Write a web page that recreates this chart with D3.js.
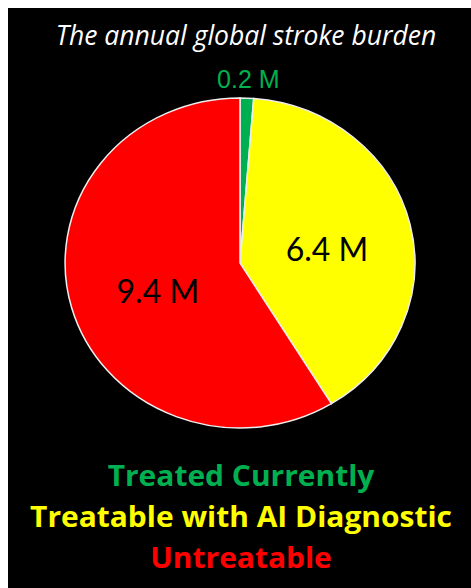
<!DOCTYPE html>
<html>
<head>
<meta charset="utf-8">
<script src="https://cdn.jsdelivr.net/npm/d3@7"></script>
<style>
  html, body { margin: 0; padding: 0; background: #ffffff; }
  svg { display: block; }
</style>
</head>
<body>
<svg id="chart" width="471" height="588"></svg>
<script>
// Annual global stroke burden, millions of cases
const categories = ["Treated Currently", "Treatable with AI Diagnostic", "Untreatable"];
const values = [0.2, 6.4, 9.4];
const valueLabels = ["0.2 M", "6.4 M", "9.4 M"];
const colors = ["#00b050", "#ffff00", "#ff0000"];
const title = "The annual global stroke burden";

const W = 471, H = 588;
const svg = d3.select("#chart");

// black panel, offset leaving a thin white margin top and left
svg.append("rect").attr("x", 8).attr("y", 8).attr("width", W - 8).attr("height", H - 8).attr("fill", "#000");

svg.append("text")
  .attr("x", 246).attr("y", 45)
  .attr("text-anchor", "middle")
  .attr("fill", "#fff")
  .style("font-family", "'Open Sans', sans-serif")
  .style("font-style", "italic")
  .style("font-size", "26.5px")
  .text(title);

// slightly wide layout: pie and legend share a horizontal stretch
const cx = 240, cy = 263, R = 165, sx = 1.06;

const pie = d3.pie().sort(null).value(d => d)(values);
const arc = d3.arc().innerRadius(0).outerRadius(R);
const labelArc = d3.arc().innerRadius(R * 0.5).outerRadius(R * 0.5);

const g = svg.append("g").attr("transform", `translate(${cx},${cy}) scale(${sx},1)`);

g.selectAll("path.slice")
  .data(pie)
  .join("path")
  .attr("class", "slice")
  .attr("d", arc)
  .attr("fill", (d, i) => colors[i])
  .attr("stroke", "#eeeeee")
  .attr("stroke-width", 1.5)
  .attr("vector-effect", "non-scaling-stroke");

// value labels: small slice outside, large slices inside
pie.forEach((d, i) => {
  let x, y, font, size, fill;
  if (i === 0) {
    const a = (d.startAngle + d.endAngle) / 2;
    x = cx + sx * Math.sin(a) * (R + 12) + 1;
    y = cy - Math.cos(a) * (R + 12) + 2;
    font = "'Liberation Sans', Arial, sans-serif"; size = 25; fill = colors[0];
  } else {
    const c = labelArc.centroid(d);
    x = cx + sx * c[0] + 2;
    y = cy + c[1] + 17.5;
    font = "Lato, sans-serif"; size = 32; fill = "#000";
  }
  svg.append("text")
    .attr("x", x).attr("y", y)
    .attr("text-anchor", "middle")
    .attr("fill", fill)
    .style("font-family", font)
    .style("font-size", size + "px")
    .text(valueLabels[i]);
});

// legend lines
const legendY = [486, 527, 568];
svg.selectAll("text.legend")
  .data(categories)
  .join("text")
  .attr("class", "legend")
  .attr("transform", (d, i) => `translate(241,${legendY[i]}) scale(1.07,1)`)
  .attr("text-anchor", "middle")
  .attr("fill", (d, i) => colors[i])
  .style("font-family", "'Open Sans', sans-serif")
  .style("font-weight", "bold")
  .style("font-size", "28px")
  .text(d => d);
</script>
</body>
</html>
